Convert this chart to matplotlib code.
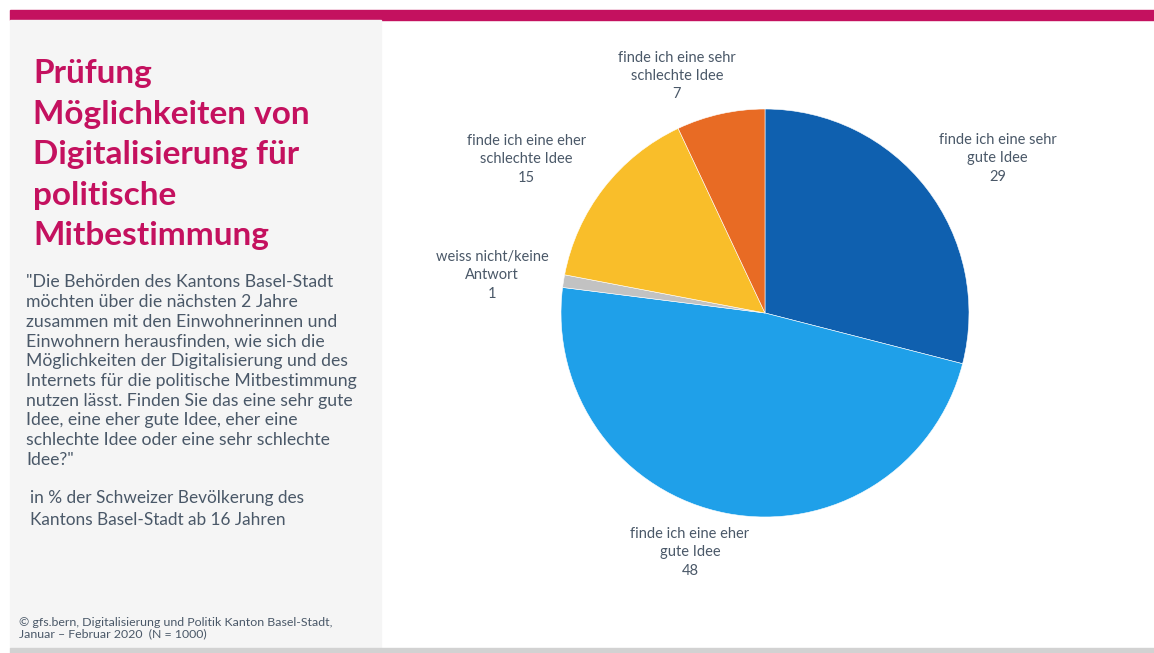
import numpy as np
import matplotlib.pyplot as plt
from matplotlib.patches import Rectangle

# data
kategorien = ["finde ich eine sehr\ngute Idee", "finde ich eine eher\ngute Idee",
              "weiss nicht/keine\nAntwort", "finde ich eine eher\nschlechte Idee",
              "finde ich eine sehr\nschlechte Idee"]
werte = [29, 48, 1, 15, 7]
farben = ["#0F60AF", "#1FA0E9", "#C2C2C2", "#F9BE2A", "#E86B24"]

titel = "Prüfung\nMöglichkeiten von\nDigitalisierung für\npolitische\nMitbestimmung"
frage = ('"Die Behörden des Kantons Basel-Stadt\n'
         'möchten über die nächsten 2 Jahre\n'
         'zusammen mit den Einwohnerinnen und\n'
         'Einwohnern herausfinden, wie sich die\n'
         'Möglichkeiten der Digitalisierung und des\n'
         'Internets für die politische Mitbestimmung\n'
         'nutzen lässt. Finden Sie das eine sehr gute\n'
         'Idee, eine eher gute Idee, eher eine\n'
         'schlechte Idee oder eine sehr schlechte\n'
         'Idee?"')
basis = "in % der Schweizer Bevölkerung des\nKantons Basel-Stadt ab 16 Jahren"
quelle = "© gfs.bern, Digitalisierung und Politik Kanton Basel-Stadt,\nJanuar – Februar 2020  (N = 1000)"

plt.rcParams['font.family'] = ['Lato', 'DejaVu Sans']
textfarbe = "#4A5868"
magenta = "#C4115F"

W, H = 1154, 653
fig = plt.figure(figsize=(W / 100, H / 100), dpi=100)
fig.patch.set_facecolor("white")

def px(x, y):
    return x / W, 1 - y / H

# background blocks
fig.patches.append(Rectangle(px(10, 20), 1 - 10 / W, 10 / H, transform=fig.transFigure,
                             color=magenta, zorder=0))
fig.patches.append(Rectangle(px(10, 648), 371 / W, 628 / H, transform=fig.transFigure,
                             color="#F5F5F5", zorder=0))
fig.patches.append(Rectangle(px(10, 653), 1 - 10 / W, 5 / H, transform=fig.transFigure,
                             color="#D2D2D2", zorder=0))

# left panel text
fig.text(*px(33, 59), titel, color=magenta, fontsize=24, fontweight="bold",
         va="top", ha="left", linespacing=1.48)
fig.text(*px(26, 274), frage, color=textfarbe, fontsize=12.7, va="top", ha="left",
         linespacing=1.29)
fig.text(*px(30, 490), basis, color=textfarbe, fontsize=12.4, va="top", ha="left",
         linespacing=1.43)
fig.text(*px(19, 617), quelle, color=textfarbe, fontsize=8.9, va="top", ha="left",
         linespacing=1.05)

# pie
r_px = 204
half = 300
ax = fig.add_axes([(765 - half) / W, (H - 313 - half) / H, 2 * half / W, 2 * half / H])

wedges, _ = ax.pie(werte, colors=farben, startangle=90, counterclock=False,
                   wedgeprops=dict(edgecolor="white", linewidth=0.4))
lim = half / r_px
ax.set_xlim(-lim, lim)
ax.set_ylim(-lim, lim)
ax.set_aspect("equal")
ax.axis("off")

# label placement: distance from centre (radii) and angle shift from wedge middle (deg)
abstand = [1.37, 1.23, 1.35, 1.39, 1.24]
winkel_shift = [-4.2, -6.6, 1.1, 5.0, 7.8]
for w, lab, v, d, s in zip(wedges, kategorien, werte, abstand, winkel_shift):
    ang = np.deg2rad((w.theta1 + w.theta2) / 2 + s)
    ax.text(d * np.cos(ang), d * np.sin(ang), f"{lab}\n{v}", ha="center", va="center",
            color=textfarbe, fontsize=10.5, linespacing=1.4)

fig.savefig("out.png", dpi=100)
